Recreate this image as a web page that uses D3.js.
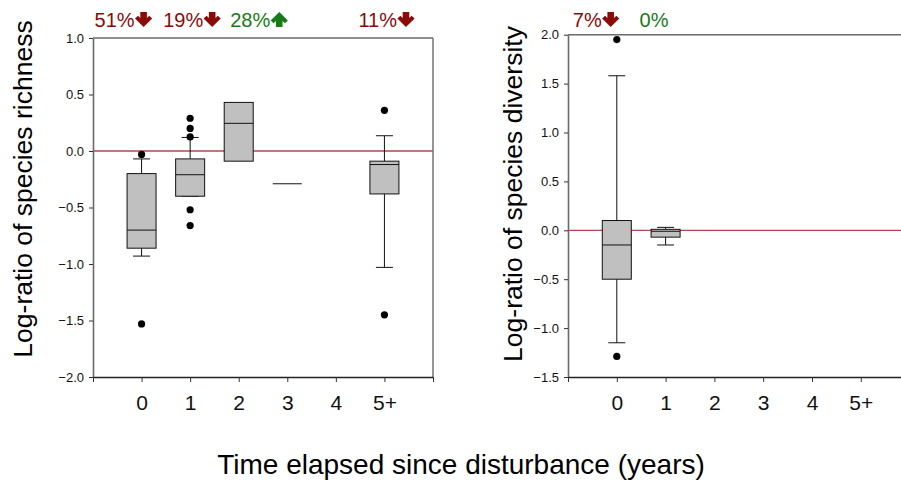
<!DOCTYPE html>
<html>
<head>
<meta charset="utf-8">
<script src="https://cdn.jsdelivr.net/npm/d3@7"></script>
<style>
  html, body { margin: 0; padding: 0; background: #fff; }
  svg { display: block; font-family: "Liberation Sans", Arial, sans-serif; }
</style>
</head>
<body>
<svg id="chart" width="901" height="488"></svg>
<script>
// Time classes since disturbance
const categories = ["0", "1", "2", "3", "4", "5+"];

// Species richness (log-ratio) box statistics per time class; null = no data
const richnessQ1      = [-0.86, -0.40, -0.09, -0.29, null, -0.38];
const richnessMedian  = [-0.70, -0.21,  0.245, -0.29, null, -0.12];
const richnessQ3      = [-0.20, -0.07,  0.43, -0.29, null, -0.09];
const richnessLow     = [-0.93, -0.40,  null,  null, null, -1.03];
const richnessHigh    = [-0.07,  0.12,  null,  null, null,  0.135];
const richnessOutliers = [[-0.03, -1.53], [0.29, 0.20, 0.125, -0.52, -0.66], [], [], [], [0.36, -1.45]];
const richnessChange  = ["51%", "19%", "28%", null, null, "11%"];
const richnessDir     = ["down", "down", "up", null, null, "down"];
const richnessTicks   = [-2.0, -1.5, -1.0, -0.5, 0.0, 0.5, 1.0];

// Species diversity (log-ratio) box statistics per time class
const diversityQ1      = [-0.50, -0.07, null, null, null, null];
const diversityMedian  = [-0.15, -0.01, null, null, null, null];
const diversityQ3      = [ 0.10,  0.01, null, null, null, null];
const diversityLow     = [-1.15, -0.15, null, null, null, null];
const diversityHigh    = [ 1.58,  0.03, null, null, null, null];
const diversityOutliers = [[1.95, -1.29], [], [], [], [], []];
const diversityChange  = ["7%", "0%", null, null, null, null];
const diversityDir     = ["down", null, null, null, null, null];
const diversityTicks   = [-1.5, -1.0, -0.5, 0.0, 0.5, 1.0, 1.5, 2.0];

const svg = d3.select("#chart");
const DOWN = "#8b0a0a", UP = "#177a17";

function panel(opt) {
  const x = d3.scaleLinear().domain([-1, 6]).range(opt.xRange);
  const y = d3.scaleLinear().domain(opt.yDomain).range(opt.yRange);
  const g = svg.append("g");
  const [x0, x1] = opt.xRange, [yb, yt] = opt.yRange;

  // frame: top and right borders
  g.append("line").attr("x1", x0).attr("x2", x1).attr("y1", yt).attr("y2", yt)
    .attr("stroke", "#6a6a6a").attr("stroke-width", 1.4);
  g.append("line").attr("x1", x1).attr("x2", x1).attr("y1", yt).attr("y2", yb)
    .attr("stroke", "#6a6a6a").attr("stroke-width", 1.4);

  // y axis
  const ya = g.append("g").attr("transform", `translate(${x0},0)`)
    .call(d3.axisLeft(y).tickValues(opt.ticks).tickFormat(d3.format(".1f"))
      .tickSize(4).tickPadding(5).tickSizeOuter(0));
  ya.select(".domain").attr("stroke", "#6a6a6a").attr("stroke-width", 1.6);
  ya.selectAll(".tick line").attr("stroke", "#333");
  ya.selectAll(".tick text").attr("font-size", 13).attr("fill", "#111")
    .attr("font-family", "Liberation Sans, Arial, sans-serif");

  // x axis
  const xa = g.append("g").attr("transform", `translate(0,${yb})`)
    .call(d3.axisBottom(x).tickValues([-1, 0, 1, 2, 3, 4, 5, 6])
      .tickFormat(i => categories[i] ?? "").tickSize(5).tickPadding(13).tickSizeOuter(0));
  xa.select(".domain").attr("stroke", "#222").attr("stroke-width", 1.4);
  xa.selectAll(".tick line").attr("stroke", "#333");
  xa.selectAll(".tick text").attr("font-size", 21).attr("fill", "#111")
    .attr("font-family", "Liberation Sans, Arial, sans-serif");

  // zero reference line
  g.append("line").attr("x1", x0).attr("x2", x1).attr("y1", y(0)).attr("y2", y(0))
    .attr("stroke", "#b24a4a").attr("stroke-width", 1.3);

  const bw = 29, cw = 17;
  categories.forEach((c, i) => {
    const cx = x(i);
    if (opt.q1[i] == null) return;
    // whiskers
    if (opt.high[i] != null) {
      g.append("line").attr("x1", cx).attr("x2", cx).attr("y1", y(opt.q3[i])).attr("y2", y(opt.high[i]))
        .attr("stroke", "#111");
      g.append("line").attr("x1", cx - cw / 2).attr("x2", cx + cw / 2)
        .attr("y1", y(opt.high[i])).attr("y2", y(opt.high[i])).attr("stroke", "#111");
    }
    if (opt.low[i] != null) {
      g.append("line").attr("x1", cx).attr("x2", cx).attr("y1", y(opt.q1[i])).attr("y2", y(opt.low[i]))
        .attr("stroke", "#111");
      g.append("line").attr("x1", cx - cw / 2).attr("x2", cx + cw / 2)
        .attr("y1", y(opt.low[i])).attr("y2", y(opt.low[i])).attr("stroke", "#111");
    }
    // box
    g.append("rect").attr("x", cx - bw / 2).attr("width", bw)
      .attr("y", y(opt.q3[i])).attr("height", Math.max(0, y(opt.q1[i]) - y(opt.q3[i])))
      .attr("fill", "#c0c0c0").attr("stroke", "#111").attr("stroke-width", 1);
    g.append("line").attr("x1", cx - bw / 2).attr("x2", cx + bw / 2)
      .attr("y1", y(opt.median[i])).attr("y2", y(opt.median[i])).attr("stroke", "#111");
    // outliers
    g.selectAll(null).data(opt.outliers[i]).join("circle")
      .attr("cx", cx).attr("cy", d => y(d)).attr("r", 3.6).attr("fill", "#000");
  });

  // percent change labels with direction arrows
  categories.forEach((c, i) => {
    if (opt.change[i] == null) return;
    const dir = opt.dir[i];
    const col = dir === "down" ? DOWN : UP;
    const tx = x(i) + opt.labelShift[i];
    const t = g.append("text").attr("x", tx).attr("y", 26.5).attr("font-size", 20)
      .attr("fill", col).text(opt.change[i]);
    if (dir) {
      const ax = tx + t.node().getComputedTextLength() + 9;
      const path = dir === "down"
        ? "M-3.3,0 L3.3,0 L3.3,6 L5.6,3.7 L8.6,6.6 L0,15 L-8.6,6.6 L-5.6,3.7 L-3.3,6 Z"
        : "M-3.3,15 L3.3,15 L3.3,9 L5.6,11.3 L8.6,8.4 L0,0 L-8.6,8.4 L-5.6,11.3 L-3.3,9 Z";
      g.append("path").attr("d", path).attr("fill", col)
        .attr("transform", `translate(${ax},12)`);
    }
  });

  // y axis title
  svg.append("text")
    .attr("transform", `translate(${opt.titleX},${opt.titleY}) rotate(-90)`)
    .attr("text-anchor", "middle").attr("font-size", 26.5).attr("fill", "#000")
    .text(opt.title);
}

panel({
  xRange: [93, 433], yDomain: [-2, 1], yRange: [377, 38], ticks: richnessTicks,
  q1: richnessQ1, median: richnessMedian, q3: richnessQ3, low: richnessLow, high: richnessHigh,
  outliers: richnessOutliers, change: richnessChange, dir: richnessDir,
  labelShift: [-47, -27, -8.5, 0, 0, -26],
  title: "Log-ratio of species richness", titleX: 32, titleY: 189
});

panel({
  xRange: [568, 909.6], yDomain: [-1.5, 2], yRange: [377, 34.7], ticks: diversityTicks,
  q1: diversityQ1, median: diversityMedian, q3: diversityQ3, low: diversityLow, high: diversityHigh,
  outliers: diversityOutliers, change: diversityChange, dir: diversityDir,
  labelShift: [-44, -26, 0, 0, 0, 0],
  title: "Log-ratio of species diversity", titleX: 522, titleY: 194
});

// shared x axis title
svg.append("text").attr("x", 461).attr("y", 474).attr("text-anchor", "middle")
  .attr("font-size", 28).attr("fill", "#000").text("Time elapsed since disturbance (years)");
</script>
</body>
</html>
